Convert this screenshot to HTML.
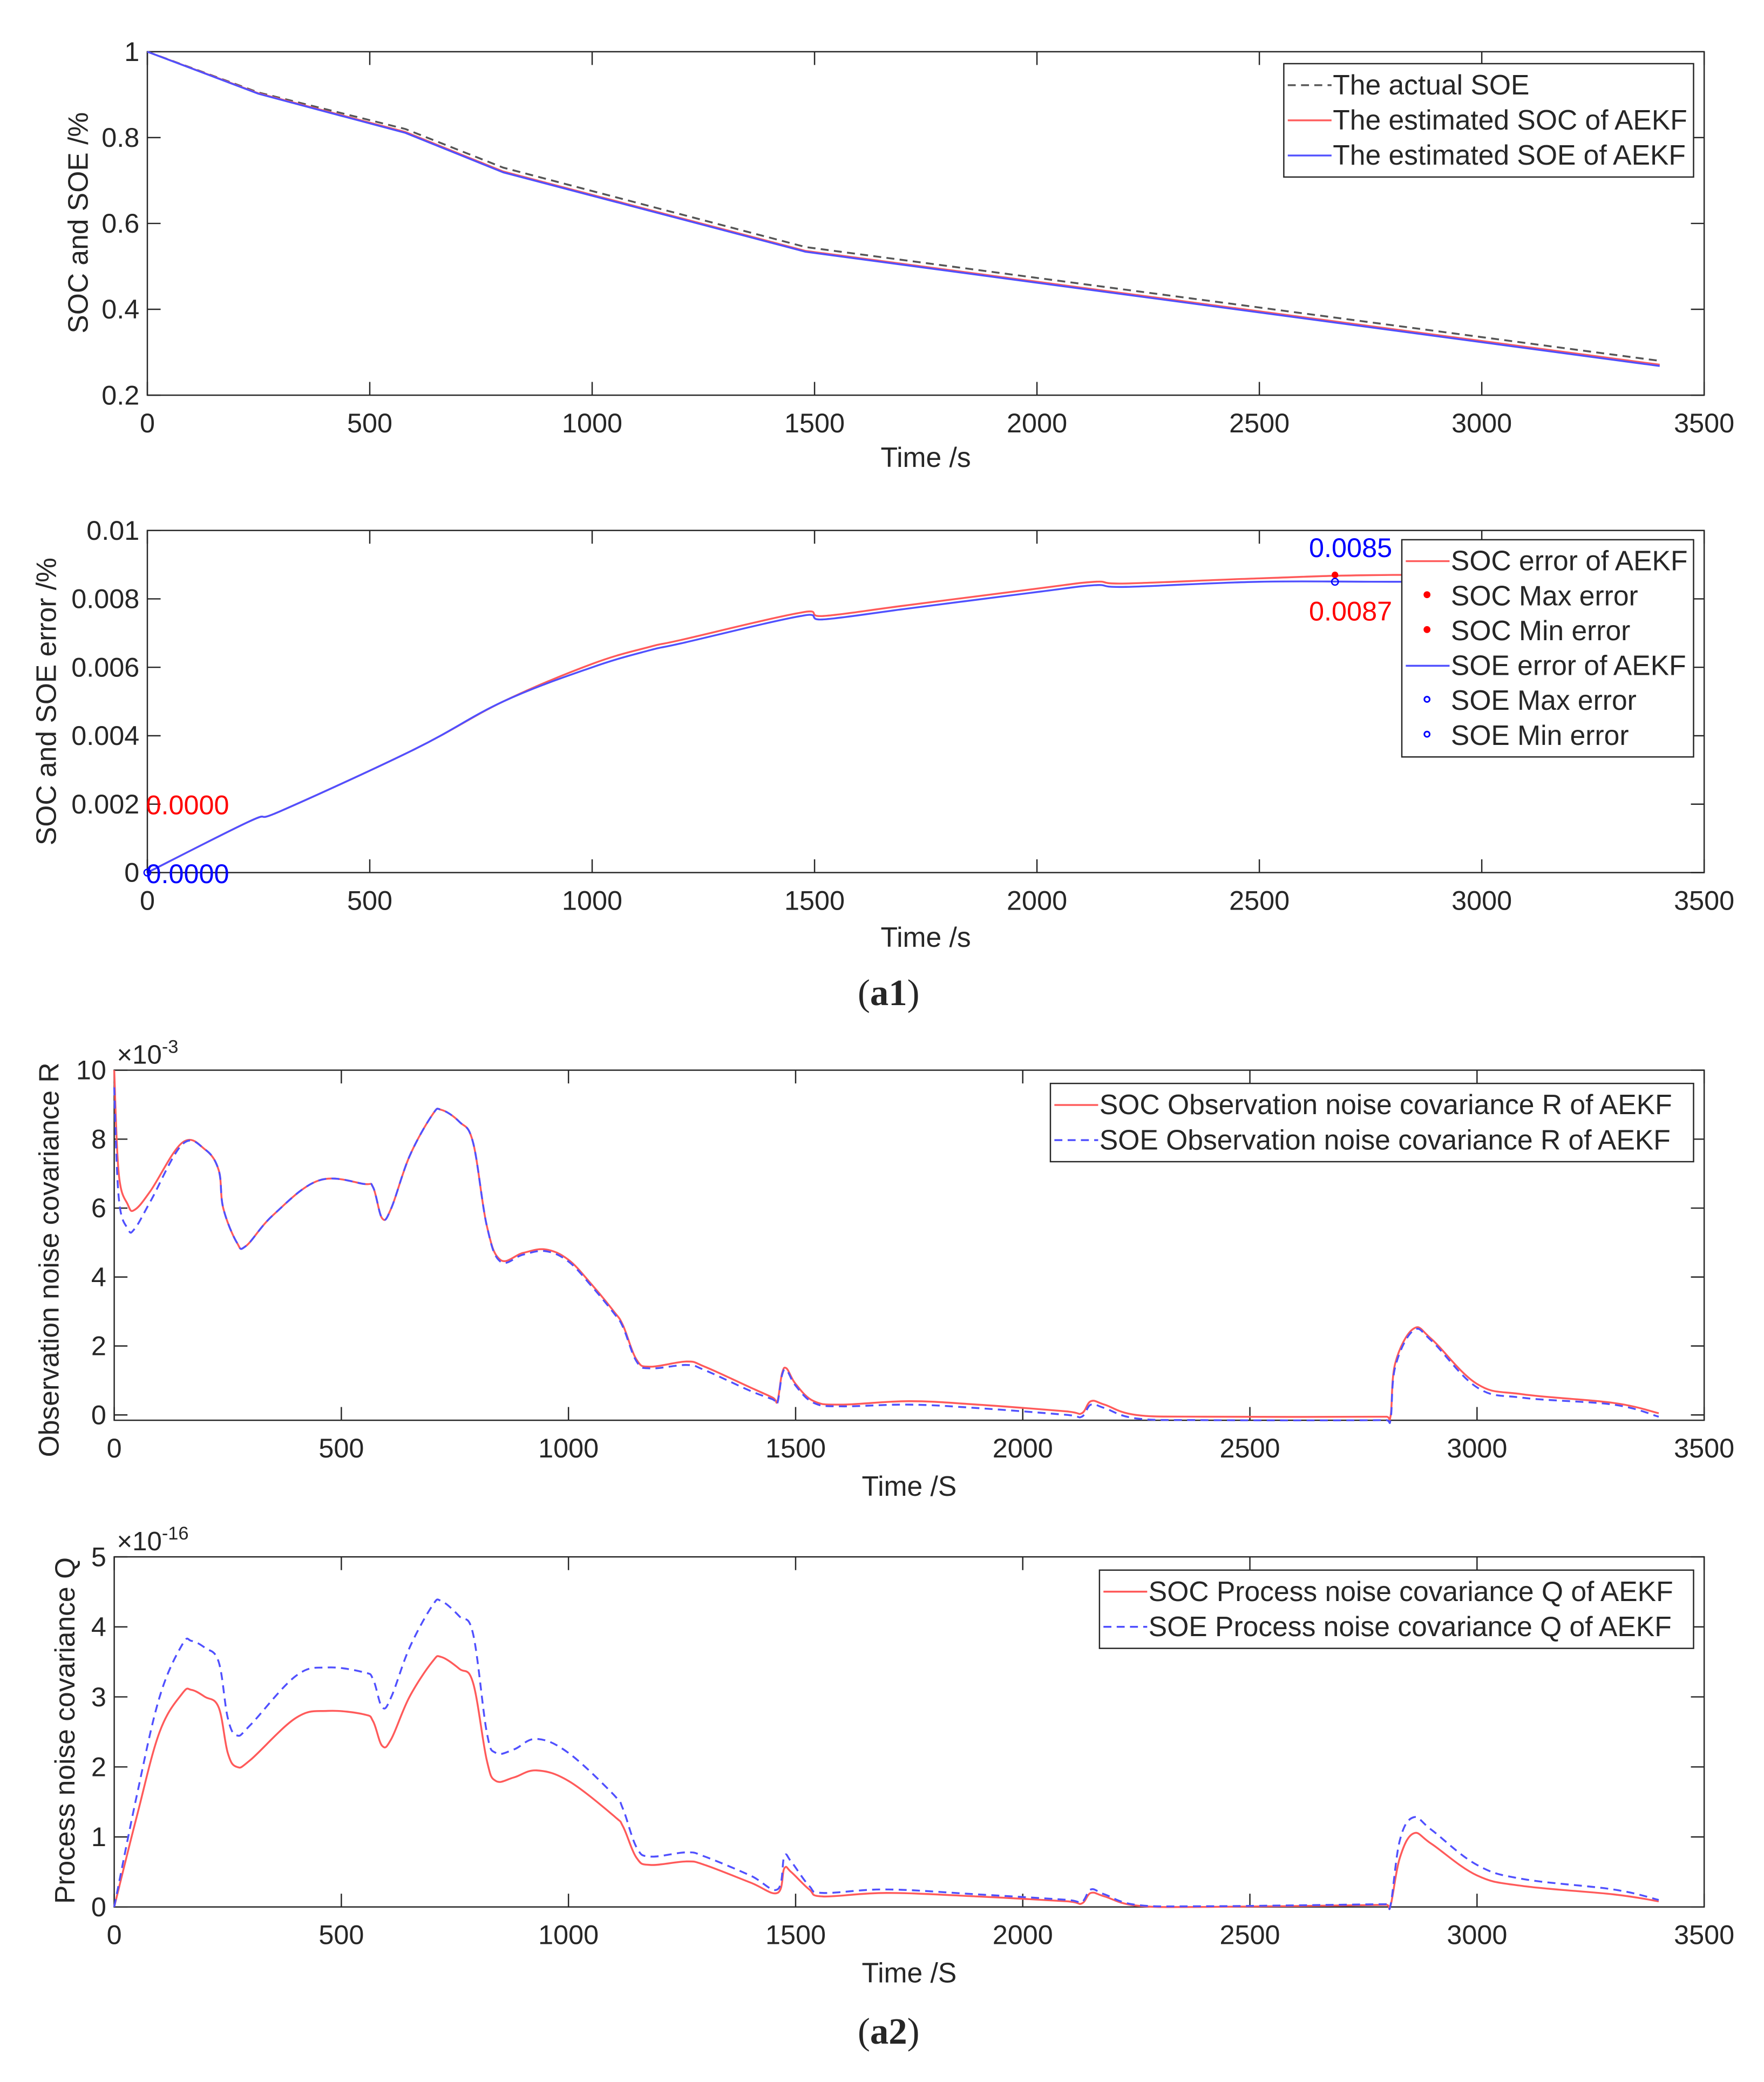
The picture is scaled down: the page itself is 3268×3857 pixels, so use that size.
<!DOCTYPE html>
<html><head><meta charset="utf-8"><style>
html,body{margin:0;padding:0;background:#fff;}
svg{display:block;}
text{font-family:"Liberation Sans",sans-serif;fill:#262626;}
</style></head><body>
<svg id="fig" width="3268" height="3857" viewBox="0 0 1330 1570" xmlns="http://www.w3.org/2000/svg">
<rect width="1330" height="1570" fill="#fff"/>
<text x="670" y="758" text-anchor="middle" style="font-family:'Liberation Serif',serif;font-size:28px">(<tspan font-weight="bold">a1</tspan>)</text>
<text x="670" y="1541" text-anchor="middle" style="font-family:'Liberation Serif',serif;font-size:28px">(<tspan font-weight="bold">a2</tspan>)</text>
</svg>
<script>
const NS='http://www.w3.org/2000/svg';
const svg=document.getElementById('fig');
// ---- data ----
const xTicks=[0,500,1000,1500,2000,2500,3000,3500];
const p1Ticks=[0.2,0.4,0.6,0.8,1];
const p1Labels=['0.2','0.4','0.6','0.8','1'];
const actualSoeT=[0,250,580,800,1480,3400];
const actualSoeV=[1,0.905,0.82,0.73,0.545,0.28];
const estT=[0,250,580,800,1480,3400];
const estSocV=[1,0.903,0.813,0.721,0.536,0.271];
const estSoeV=[1,0.902,0.811,0.719,0.534,0.268];
const p2Ticks=[0,0.002,0.004,0.006,0.008,0.01];
const p2Labels=['0','0.002','0.004','0.006','0.008','0.01'];
const errT=[0,230,300,600,800,1000,1130,1200,1470,1520,1700,2000,2130,2200,2500,2800,3400];
const socErrV=[0,0.0015,0.0018,0.0036,0.005,0.0061,0.0066,0.0068,0.0076,0.0075,0.0078,0.0083,0.0085,0.00845,0.0086,0.0087,0.0087];
const soeErrV=[0,0.0015,0.0018,0.0036,0.005,0.0060,0.0065,0.0067,0.0075,0.0074,0.0077,0.0082,0.0084,0.00835,0.0085,0.0085,0.0085];
const p3Ticks=[0,2,4,6,8,10];
const rT=[0,10,30,45,80,150,200,230,240,270,290,350,450,550,570,590,610,650,700,720,760,790,820,850,900,950,1000,1050,1100,1120,1150,1180,1260,1300,1400,1450,1460,1470,1480,1500,1540,1600,1750,1900,2100,2130,2150,2180,2250,2400,2800,2810,2820,2860,2900,3000,3100,3300,3400];
const rSocV=[10,7,6.1,5.95,6.5,7.9,7.7,7.1,6,5,4.9,5.8,6.8,6.7,6.6,5.7,6,7.5,8.7,8.85,8.5,7.9,5.5,4.5,4.7,4.8,4.5,3.8,3.0,2.6,1.6,1.4,1.55,1.4,0.8,0.5,0.4,1.2,1.35,0.9,0.4,0.3,0.4,0.3,0.1,0.05,0.4,0.3,0,-0.05,-0.05,0,1.5,2.5,2.2,0.9,0.6,0.35,0.05];
const rSoeV=[9.5,6.3,5.4,5.4,6.2,7.85,7.7,7.1,6,5,4.9,5.8,6.8,6.7,6.6,5.7,6,7.5,8.7,8.85,8.5,7.9,5.5,4.45,4.65,4.75,4.45,3.75,2.95,2.55,1.55,1.35,1.45,1.3,0.7,0.45,0.35,1.15,1.3,0.85,0.35,0.25,0.3,0.2,0.0,-0.05,0.3,0.2,-0.1,-0.15,-0.15,-0.1,1.4,2.45,2.15,0.8,0.5,0.3,-0.05];
const p4Ticks=[0,1,2,3,4,5];
const qT=[0,50,100,150,170,200,230,250,270,300,400,470,550,570,590,610,650,700,720,760,790,820,840,880,930,1000,1100,1120,1150,1180,1260,1300,1400,1460,1475,1490,1530,1560,1700,1900,2100,2130,2150,2180,2250,2400,2800,2810,2830,2860,2900,3000,3100,3300,3400];
const qSocV=[0,1.3,2.5,3.05,3.1,3.0,2.85,2.2,2.0,2.1,2.7,2.8,2.75,2.65,2.3,2.4,3.0,3.5,3.57,3.4,3.2,2.1,1.8,1.85,1.95,1.8,1.3,1.15,0.7,0.6,0.65,0.6,0.35,0.2,0.55,0.5,0.25,0.15,0.2,0.15,0.08,0.05,0.2,0.15,0.02,0,0.03,0.03,0.7,1.05,0.9,0.45,0.3,0.18,0.08];
const qSoeV=[0,1.6,3.0,3.75,3.8,3.7,3.5,2.7,2.45,2.6,3.3,3.42,3.35,3.25,2.85,3.0,3.7,4.3,4.37,4.15,3.9,2.5,2.2,2.25,2.4,2.2,1.6,1.4,0.85,0.72,0.78,0.72,0.45,0.25,0.72,0.65,0.3,0.2,0.25,0.18,0.1,0.07,0.25,0.18,0.03,0.01,0.04,0.04,0.95,1.28,1.1,0.6,0.4,0.25,0.1];

function el(tag,attrs,parent,txt){const e=document.createElementNS(NS,tag);for(const k in attrs)e.setAttribute(k,attrs[k]);if(txt!==undefined)e.textContent=txt;(parent||svg).appendChild(e);return e;}
function linePath(P){return P.map((p,i)=>(i?'L':'M')+p[0].toFixed(2)+','+p[1].toFixed(2)).join('');}
function smoothPath(P){
  let d='M'+P[0][0].toFixed(2)+','+P[0][1].toFixed(2);
  for(let i=0;i<P.length-1;i++){
    const p0=P[i-1]||P[i],p1=P[i],p2=P[i+1],p3=P[i+2]||P[i+1];
    const k=0.18;
    let c1x=p1[0]+(p2[0]-p0[0])*k,c1y=p1[1]+(p2[1]-p0[1])*k;
    let c2x=p2[0]-(p3[0]-p1[0])*k,c2y=p2[1]-(p3[1]-p1[1])*k;
    c1x=Math.min(Math.max(c1x,p1[0]),p2[0]);c2x=Math.min(Math.max(c2x,p1[0]),p2[0]);
    d+='C'+c1x.toFixed(2)+','+c1y.toFixed(2)+' '+c2x.toFixed(2)+','+c2y.toFixed(2)+' '+p2[0].toFixed(2)+','+p2[1].toFixed(2);
  }
  return d;
}
function axes(o){
  const g=el('g',{});
  
  
  const sx=v=>o.x0+(v-0)/3500*(o.x1-o.x0);
  const sy=v=>o.yb-(v-o.ymin)/(o.ymax-o.ymin)*(o.yb-o.yt);
  el('rect',{x:o.x0,y:o.yt,width:o.x1-o.x0,height:o.boxB-o.yt,fill:'#fff',stroke:'#262626','stroke-width':1},g);
  xTicks.forEach(t=>{const x=sx(t);
    el('line',{x1:x,x2:x,y1:o.boxB,y2:o.boxB-10,stroke:'#262626','stroke-width':1},g);
    el('line',{x1:x,x2:x,y1:o.yt,y2:o.yt+10,stroke:'#262626','stroke-width':1},g);
    const t1=el('text',{x:x,y:o.boxB+28,'text-anchor':'middle','font-size':20.5},g,String(t));
    
    
  });
  o.yTicks.forEach((t,i)=>{const y=sy(t);
    el('line',{x1:o.x0,x2:o.x0+10,y1:y,y2:y,stroke:'#262626','stroke-width':1},g);
    el('line',{x1:o.x1,x2:o.x1-10,y1:y,y2:y,stroke:'#262626','stroke-width':1},g);
    const t1=el('text',{x:o.x0-6,y:y+7,'text-anchor':'end','font-size':20.5},g,o.yLabels?o.yLabels[i]:String(t));
    
    
  });
  const xl=el('text',{x:(o.x0+o.x1)/2,y:o.xlY,'text-anchor':'middle','font-size':21},g,o.xlabel);
  
  
  const yl=el('text',{x:0,y:0,'text-anchor':'middle','font-size':21,transform:`translate(${o.ylX},${o.ylY}) rotate(-90)`},g,o.ylabel);
  
  
  o.series.forEach(s=>{
    const P=s.t.map((t,i)=>[sx(t),sy(s.v[i])]);
    const p=el('path',{d:o.straight?linePath(P):smoothPath(P),fill:'none',stroke:s.c,'stroke-width':1.4,'stroke-dasharray':s.dash||'none','stroke-linejoin':'round'},g);
    
    
  });
  return {g,sx,sy};
}
function legend(g,x,y,w,items,rowH){
  const lg=el('g',{},g);
  
  
  el('rect',{x:x,y:y,width:w,height:items.length*rowH+6,fill:'#fff',stroke:'#262626','stroke-width':1},lg);
  items.forEach((it,i)=>{const cy=y+3+rowH*(i+0.5);
    if(it.marker){el('circle',{cx:x+19,cy:cy-1,r:2,fill:it.fill||'none',stroke:it.c,'stroke-width':1.2},lg);}
    else el('line',{x1:x+3,x2:x+36,y1:cy,y2:cy,stroke:it.c,'stroke-width':1.4,'stroke-dasharray':it.dash||'none'},lg);
    const t=el('text',{x:x+37,y:cy+7,'font-size':21},lg,it.label);
    
    
  });
}
// Panel 1
const a1=axes({name:'soc-soe-chart',straight:true,x0:111,x1:1285,yt:39,yb:298,boxB:298,ymin:0.2,ymax:1,yTicks:p1Ticks,yLabels:p1Labels,xlabel:'Time /s',xlY:352,ylabel:'SOC and SOE /%',ylX:66,ylY:168,
 series:[{t:actualSoeT,v:actualSoeV,c:'#555',dash:'6,4',name:'actual-soe-line'},{t:estT,v:estSocV,c:'#ff5a5a',name:'est-soc-line'},{t:estT,v:estSoeV,c:'#5050ff',name:'est-soe-line'}]});
legend(a1.g,968,48,309,[{c:'#555',dash:'6,4',label:'The actual SOE'},{c:'#ff5a5a',label:'The estimated SOC of AEKF'},{c:'#5050ff',label:'The estimated SOE of AEKF'}],26.5);
// Panel 2
const a2=axes({name:'error-chart',x0:111,x1:1285,yt:400,yb:658,boxB:658,ymin:0,ymax:0.01,yTicks:p2Ticks,yLabels:p2Labels,xlabel:'Time /s',xlY:714,ylabel:'SOC and SOE error /%',ylX:42,ylY:529,
 series:[{t:errT,v:socErrV,c:'#ff5a5a',name:'soc-error-line'},{t:errT,v:soeErrV,c:'#5050ff',name:'soe-error-line'}]});
el('circle',{cx:a2.sx(2670),cy:a2.sy(0.0087),r:2.5,fill:'#f00'},a2.g);
el('circle',{cx:a2.sx(2670),cy:a2.sy(0.0085),r:2.5,fill:'none',stroke:'#00f'},a2.g);
el('circle',{cx:a2.sx(0),cy:a2.sy(0),r:2.5,fill:'none',stroke:'#00f'},a2.g);
el('text',{x:987,y:420,'font-size':20.5,style:'fill:#0000ff'},a2.g,'0.0085');
el('text',{x:987,y:468,'font-size':20.5,style:'fill:#ff0000'},a2.g,'0.0087');
el('text',{x:110,y:614,'font-size':20.5,style:'fill:#ff0000'},a2.g,'0.0000');
el('text',{x:110,y:666,'font-size':20.5,style:'fill:#0000ff'},a2.g,'0.0000');
legend(a2.g,1057,407,220,[{c:'#ff5a5a',label:'SOC error of AEKF'},{c:'#f00',marker:1,fill:'#f00',label:'SOC Max error'},{c:'#f00',marker:1,fill:'#f00',label:'SOC Min error'},{c:'#5050ff',label:'SOE error of AEKF'},{c:'#00f',marker:1,label:'SOE Max error'},{c:'#00f',marker:1,label:'SOE Min error'}],26.3);
// Panel 3
const a3=axes({name:'observation-noise-chart',x0:86,x1:1285,yt:807,yb:1067,boxB:1071,ymin:0,ymax:10,yTicks:p3Ticks,xlabel:'Time /S',xlY:1128,ylabel:'Observation noise covariance R',ylX:44,ylY:950,
 series:[{t:rT,v:rSocV,c:'#ff5a5a',name:'soc-r-line'},{t:rT,v:rSoeV,c:'#5050ff',dash:'6,4',name:'soe-r-line'}]});
el('text',{x:88,y:802,'font-size':20},a3.g,'×10').appendChild(Object.assign(document.createElementNS(NS,'tspan'),{textContent:'-3'}));
a3.g.lastChild.lastChild.setAttribute('dy','-8');a3.g.lastChild.lastChild.setAttribute('font-size','14');
legend(a3.g,792,817,485,[{c:'#ff5a5a',label:'SOC Observation noise covariance R of AEKF'},{c:'#5050ff',dash:'6,4',label:'SOE Observation noise covariance R of AEKF'}],26.5);
// Panel 4
const a4=axes({name:'process-noise-chart',x0:86,x1:1285,yt:1174,yb:1438,boxB:1438,ymin:0,ymax:5,yTicks:p4Ticks,xlabel:'Time /S',xlY:1495,ylabel:'Process noise covariance Q',ylX:56,ylY:1305,
 series:[{t:qT,v:qSocV,c:'#ff5a5a',name:'soc-q-line'},{t:qT,v:qSoeV,c:'#5050ff',dash:'6,4',name:'soe-q-line'}]});
el('text',{x:88,y:1169,'font-size':20},a4.g,'×10').appendChild(Object.assign(document.createElementNS(NS,'tspan'),{textContent:'-16'}));
a4.g.lastChild.lastChild.setAttribute('dy','-8');a4.g.lastChild.lastChild.setAttribute('font-size','14');
legend(a4.g,829,1184,448,[{c:'#ff5a5a',label:'SOC Process noise covariance Q of AEKF'},{c:'#5050ff',dash:'6,4',label:'SOE Process noise covariance Q of AEKF'}],26.5);
</script>
</body></html>
